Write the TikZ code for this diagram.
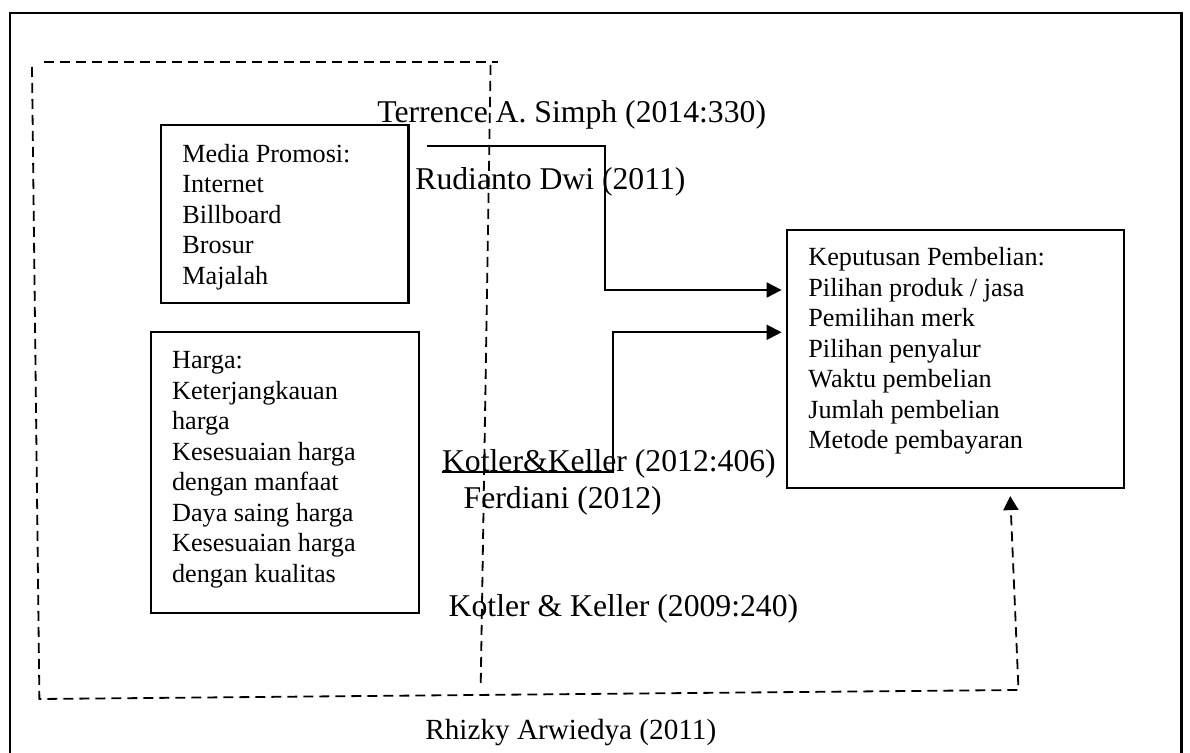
\documentclass[tikz,border=0pt]{standalone}
\usepackage{fontspec}
\setmainfont{Liberation Serif}
\usetikzlibrary{arrows.meta}

\begin{document}
\begin{tikzpicture}[x=0.5pt,y=-0.5pt,
  box/.style={draw,line width=1.1pt,inner sep=0pt},
  boxtxt/.style={anchor=north west,inner sep=0pt,align=left,font=\fontsize{13.1pt}{15.25pt}\selectfont},
  cite/.style={anchor=base west,inner sep=0pt,font=\fontsize{15.85pt}{19pt}\selectfont},
  link/.style={line width=1pt,-{Triangle[length=7.5pt,width=7.5pt]},shorten >=2pt},
  dline/.style={line width=0.9pt,dash pattern=on 5pt off 3pt},
  dlink/.style={dline,-{Triangle[length=7pt,width=7.5pt]},shorten >=3.5pt}]
\useasboundingbox (0,0) rectangle (1190,753);
% outer frame
\draw[line width=1.1pt] (9.6,770) -- (9.6,12.7) -- (1181.5,12.7) -- (1181.5,770);
% boxes
\node[box,minimum width=123.9pt,minimum height=89pt] (media) at (284.6,214) {};
\node[box,minimum width=134.15pt,minimum height=140.65pt] (harga) at (285.15,472.35) {};
\node[box,minimum width=168.65pt,minimum height=129pt] (kep) at (955.35,359) {};
\node[boxtxt] (mediatxt) at (182,140.65) {\strut Media Promosi:\\Internet\\Billboard\\Brosur\\Majalah};
\node[boxtxt] (hargatxt) at (171.7,346.95) {\strut Harga:\\Keterjangkauan\\harga\\Kesesuaian harga\\dengan manfaat\\Daya saing harga\\Kesesuaian harga\\dengan kualitas};
\node[boxtxt] (keptxt) at (808,244.05) {\strut Keputusan Pembelian:\\Pilihan produk / jasa\\Pemilihan merk\\Pilihan penyalur\\Waktu pembelian\\Jumlah pembelian\\Metode pembayaran};
% sources
\node[cite] (simph) at (377,122.7) {Terrence A. Simph (2014:330)};
\node[cite] (rudianto) at (415,190) {Rudianto Dwi (2011)};
\node[cite] (kotlerA) at (441.7,471.7) {Kotler\&Keller (2012:406)};
\node[cite] (ferdiani) at (463.3,508.3) {Ferdiani (2012)};
\node[cite] (kotlerB) at (448.3,616.7) {Kotler \& Keller (2009:240)};
\node[cite,font=\fontsize{14.6pt}{17.5pt}\selectfont] (rhizky) at (425,740) {Rhizky Arwiedya (2011)};
% dashed region
\draw[dline] (44,62) -- (497.5,62);
\draw[dline] (490.6,65) -- (480.7,686.7);
\coordinate (d0) at (32,67);
\coordinate (d1) at (39.4,699);
\coordinate (d2) at (1018.5,690);
\draw[dlink] (d0) -- (d1) -- (d2) -- ([xshift=27.3pt]kep.south);
% arrows
\coordinate (s1) at (426.7,145.7);
\coordinate (s2) at (441.7,472.3);
\draw[link] (s1) -- (605,145.7) |- ([yshift=34.5pt]kep.west);
\draw[link] (s2) -- (613.3,472.3) |- ([yshift=13.35pt]kep.west);
\end{tikzpicture}
\end{document}
